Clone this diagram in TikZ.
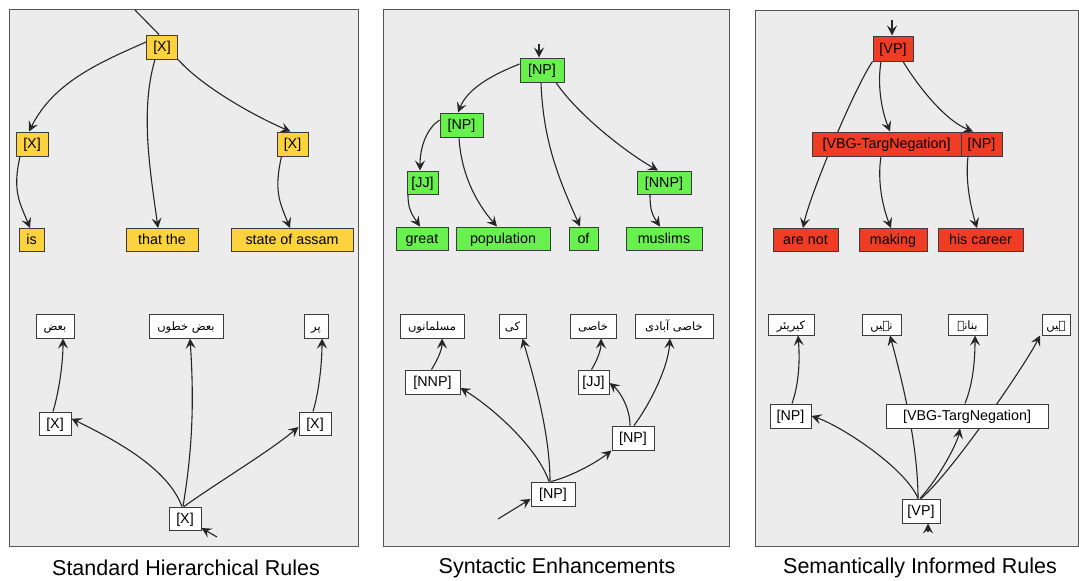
\documentclass[tikz,border=0pt]{standalone}
\usepackage{fontspec}
\setmainfont{Liberation Sans}
\newfontfamily\urdu[Script=Arabic]{DejaVu Sans}
\TeXXeTstate=1
\usetikzlibrary{arrows.meta}
\definecolor{ylw}{HTML}{FCD23F}
\definecolor{grn}{HTML}{68F04E}
\definecolor{rd}{HTML}{EE3D24}
\definecolor{panelbg}{HTML}{ECECEC}
\definecolor{panelline}{HTML}{555555}
\definecolor{boxline}{HTML}{3C3C3C}
\pgfdeclarelayer{panels}
\pgfdeclarelayer{edges}
\pgfsetlayers{panels,edges,main}
\newcommand\ur[1]{{\urdu\fontsize{11.5}{13}\selectfont\beginR #1\endR}}
\begin{document}
\begin{tikzpicture}[x=1pt,y=-1pt,
 lab/.style={font=\fontsize{14.3}{17}\selectfont, text height=11.5pt, text depth=2pt},
 box/.style={draw=boxline, line width=1pt, inner sep=0pt, minimum height=24pt, lab},
 yb/.style={box, fill=ylw}, gb/.style={box, fill=grn}, rb/.style={box, fill=rd}, wb/.style={box, fill=white},
 conn/.style={draw=black!85, line width=1.1pt, -{Stealth[length=10pt,width=10pt,inset=4pt]}},
 plainline/.style={draw=black!85, line width=1.1pt},
 panel/.style={fill=panelbg, draw=panelline, line width=1pt},
 caption/.style={font=\fontsize{21.5}{26}\selectfont}]
\useasboundingbox (0,0) rectangle (1079,581);
\begin{pgfonlayer}{panels}
\fill[white] (0,0) rectangle (1079,581);
\draw[panel] (9,9) rectangle (358,546);
\draw[panel] (383,9) rectangle (729,546);
\draw[panel] (755,10) rectangle (1078,546);
\end{pgfonlayer}
% captions
\node[caption] (cap1) at (186,568) {Standard Hierarchical Rules};
\node[caption] (cap2) at (557,568) {Syntactic Enhancements};
\node[caption] (cap3) at (920,568) {Semantically Informed Rules};
% ---------- panel 1 top
\node[yb, minimum width=31pt] (p1t) at (162,47) {[X]};
\node[yb, minimum width=32pt] (p1l) at (32,144) {[X]};
\node[yb, minimum width=31pt] (p1r) at (292.5,144) {[X]};
\node[yb, minimum width=25pt, minimum height=23pt] (p1a) at (31.5,240) {is};
\node[yb, minimum width=72pt, minimum height=23pt] (p1b) at (162,240) {that the};
\node[yb, minimum width=122pt, minimum height=23pt] (p1c) at (292,240) {state of assam};
\coordinate (p1in) at (135,10);
% ---------- panel 1 bottom
\node[wb, minimum width=38pt] (q1a) at (55,326) {\ur{بعض}};
\node[wb, minimum width=74pt] (q1b) at (186,326) {\ur{بعض خطوں}};
\node[wb, minimum width=24pt] (q1c) at (316,326) {\ur{پر}};
\node[wb, minimum width=32pt, minimum height=23pt] (q1l) at (55,423.5) {[X]};
\node[wb, minimum width=32pt, minimum height=23pt] (q1r) at (315,423.5) {[X]};
\node[wb, minimum width=32pt, minimum height=23pt] (q1m) at (185,518.5) {[X]};
\coordinate (q1in) at (217,537);
% ---------- panel 2 top
\node[gb, minimum width=44pt] (r1) at (542,70) {[NP]};
\node[gb, minimum width=43pt] (r2) at (461.5,125) {[NP]};
\node[gb, minimum width=31pt, minimum height=23pt] (r3) at (422.5,182.5) {[JJ]};
\node[gb, minimum width=54pt, minimum height=23pt] (r4) at (664,182.5) {[NNP]};
\node[gb, minimum width=52pt, minimum height=23pt] (r5) at (422,238.5) {great};
\node[gb, minimum width=94pt, minimum height=23pt] (r6) at (503,238.5) {population};
\node[gb, minimum width=29pt, minimum height=23pt] (r7) at (583.5,238.5) {of};
\node[gb, minimum width=76pt, minimum height=23pt] (r8) at (664,238.5) {muslims};
\coordinate (r1in) at (539,44);
% ---------- panel 2 bottom
\node[wb, minimum width=64pt] (s1) at (432,326) {\ur{مسلمانوں}};
\node[wb, minimum width=27pt] (s2) at (512.5,326) {\ur{کی}};
\node[wb, minimum width=46pt] (s3) at (593,326) {\ur{خاصی}};
\node[wb, minimum width=78pt] (s4) at (674,326) {\ur{خاصی آبادی}};
\node[wb, minimum width=55pt] (s5) at (432.5,382) {[NNP]};
\node[wb, minimum width=31pt] (s6) at (593.5,382) {[JJ]};
\node[wb, minimum width=42pt] (s7) at (633,438) {[NP]};
\node[wb, minimum width=44pt] (s8) at (553,494) {[NP]};
\coordinate (s8in) at (498,519);
% ---------- panel 3 top
\node[rb, minimum width=40pt, minimum height=25pt] (t1) at (893,48.5) {[VP]};
\node[rb, minimum width=149pt] (t2) at (886.5,144) {[VBG-TargNegation]};
\node[rb, minimum width=41pt] (t3) at (981.5,144) {[NP]};
\node[rb, minimum width=65pt, minimum height=23pt] (t4) at (805.5,240) {are not};
\node[rb, minimum width=68pt, minimum height=23pt] (t5) at (893,240) {making};
\node[rb, minimum width=85pt, minimum height=23pt] (t6) at (980.5,240) {his career};
\coordinate (t1in) at (892,20);
% ---------- panel 3 bottom
\node[wb, minimum width=46pt, minimum height=21pt] (u1) at (791,324.5) {\ur{کیریئر}};
\node[wb, minimum width=39pt, minimum height=21pt] (u2) at (881.5,324.5) {\ur{نہیں}};
\node[wb, minimum width=39pt, minimum height=21pt] (u3) at (967.5,324.5) {\ur{بنانے}};
\node[wb, minimum width=28pt, minimum height=21pt] (u4) at (1056,324.5) {\ur{ہیں}};
\node[wb, minimum width=41pt] (u5) at (790.5,416) {[NP]};
\node[wb, minimum width=162pt] (u6) at (967,416) {[VBG-TargNegation]};
\node[wb, minimum width=38pt] (u7) at (921,511) {[VP]};
\coordinate (u7in) at (928,532);

\begin{pgfonlayer}{edges}
% panel 1 top
\draw[plainline] (p1in) -- ([xshift=-3pt]p1t.north);
\draw[conn] ([yshift=5pt]p1t.west) .. controls +(-45,20) and +(25,-50) .. ([xshift=-3pt]p1l.north);
\draw[conn] ([xshift=-7pt]p1t.south) .. controls +(-15,51) and +(-8,-58) .. ([xshift=-4pt]p1b.north);
\draw[conn] (p1t.south east) .. controls +(25,28) and +(-35,-15) .. ([xshift=-2pt]p1r.north);
\draw[conn] ([xshift=-12pt]p1l.south) .. controls +(-8,35) and +(-10,-25) .. ([xshift=-1.5pt]p1a.north);
\draw[conn] ([xshift=-11pt]p1r.south) .. controls +(-8,35) and +(-10,-25) .. ([xshift=-2pt]p1c.north);
% panel 1 bottom
\draw[conn] (q1in) -- (q1m);
\draw[conn] ([xshift=-3pt]q1m.north) .. controls +(-15,-40) and +(40,20) .. ([yshift=5pt]q1l.east);
\draw[conn] ([xshift=-2pt]q1m.north) .. controls +(10,-60) and +(4,60) .. ([xshift=4pt]q1b.south);
\draw[conn] ([xshift=-1pt]q1m.north) .. controls +(35,-25) and +(-30,25) .. ([yshift=-3.5pt]q1r.west);
\draw[conn] ([xshift=-2pt]q1l.north) .. controls +(6,-20) and +(0,25) .. ([xshift=8pt]q1a.south);
\draw[conn] ([xshift=-2pt]q1r.north) .. controls +(6,-20) and +(0,25) .. ([xshift=6pt]q1c.south);
% panel 2 top
\draw[conn] (r1in) -- ([xshift=-3pt]r1.north);
\draw[conn] ([yshift=6pt]r1.west) .. controls +(-25,10) and +(10,-25) .. ([xshift=-3.5pt]r2.north);
\draw[conn] ([xshift=-1pt]r1.south) .. controls +(2,60) and +(-20,-45) .. ([xshift=-3.5pt]r7.north);
\draw[conn] ([xshift=14pt]r1.south) .. controls +(20,30) and +(-35,-20) .. ([xshift=-6pt]r4.north);
\draw[conn] ([yshift=5pt]r2.west) .. controls +(-12,8) and +(0,-25) .. ([xshift=-2.5pt]r3.north);
\draw[conn] ([xshift=-2.5pt]r2.south) .. controls +(2,35) and +(-22,-25) .. ([xshift=-6pt]r6.north);
\draw[conn] ([xshift=-14.5pt]r3.south) .. controls +(0,15) and +(-8,-12) .. ([xshift=-2pt]r5.north);
\draw[conn] ([xshift=-14pt]r4.south) .. controls +(0,15) and +(-8,-12) .. ([xshift=-4pt]r8.north);
% panel 2 bottom
\draw[conn] (s8in) -- ([yshift=-5pt]s8.west);
\draw[conn] ([xshift=-4pt]s8.north) .. controls +(-12,-35) and +(30,18) .. ([yshift=-6pt]s5.east);
\draw[conn] ([xshift=-3pt]s8.north) .. controls +(0,-50) and +(10,35) .. ([xshift=10pt]s2.south);
\draw[conn] ([xshift=-2pt]s8.north) .. controls +(20,-5) and +(-15,12) .. (s7.south west);
\draw[conn] ([xshift=-1pt]s5.north) .. controls +(5,-8) and +(0,12) .. ([xshift=10pt]s1.south);
\draw[conn] ([xshift=-3pt]s7.north) .. controls +(0,-18) and +(10,8) .. ([yshift=-1pt]s6.east);
\draw[conn] ([xshift=-2pt]s6.north) .. controls +(5,-8) and +(0,12) .. ([xshift=8pt]s3.south);
\draw[conn] ([xshift=1pt]s7.north) .. controls +(15,-20) and +(-2,30) .. ([xshift=-4pt]s4.south);
% panel 3 top
\draw[conn] (t1in) -- ([xshift=-1pt]t1.north);
\draw[conn] (t1.south west) .. controls +(-20,30) and +(6,-30) .. ([xshift=-2.5pt]t4.north);
\draw[conn] ([xshift=-12pt]t1.south) .. controls +(-4,25) and +(-8,-20) .. ([xshift=3.5pt]t2.north);
\draw[conn] ([xshift=10pt]t1.south) .. controls +(12,20) and +(-30,-12) .. ([xshift=-8.5pt]t3.north);
\draw[conn] ([xshift=-5.5pt]t2.south) .. controls +(-4,25) and +(-8,-20) .. ([xshift=-2pt]t5.north);
\draw[conn] ([xshift=-13.5pt]t3.south) .. controls +(-3,25) and +(-6,-20) .. ([xshift=-3.5pt]t6.north);
% panel 3 bottom
\draw[conn] (u7in) -- ([xshift=7pt]u7.south);
\draw[conn] ([xshift=-3pt]u7.north) .. controls +(-12,-30) and +(30,10) .. (u5.east);
\draw[conn] ([xshift=-3pt]u7.north) .. controls +(0,-60) and +(8,30) .. ([xshift=8.5pt]u2.south);
\draw[conn] ([xshift=-1pt]u7.north) .. controls +(20,-22) and +(-3,15) .. ([xshift=-7pt]u6.south);
\draw[conn] (u7.north) .. controls +(30,-25) and +(-15,30) .. ([xshift=-16pt]u4.south);
\draw[conn] ([xshift=-2pt]u6.north) .. controls +(8,-20) and +(0,25) .. ([xshift=7.5pt]u3.south);
\draw[conn] ([xshift=1.5pt]u5.north) .. controls +(7,-20) and +(2,25) .. ([xshift=7pt]u1.south);
\end{pgfonlayer}
\end{tikzpicture}
\end{document}
